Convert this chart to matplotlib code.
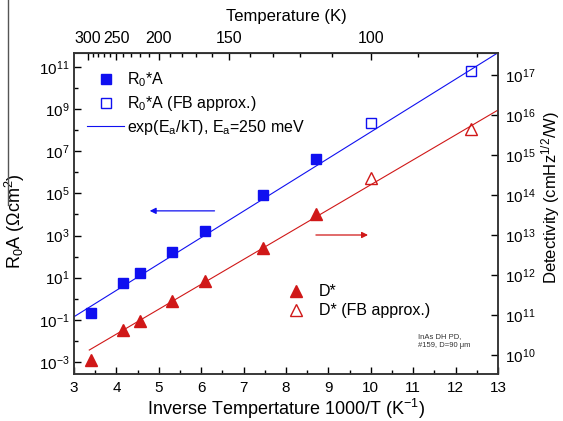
import numpy as np
import matplotlib
matplotlib.use("Agg")
from matplotlib import pyplot as plt
from matplotlib.lines import Line2D

plt.rcParams['font.family'] = ['Liberation Sans', 'DejaVu Sans']
plt.rcParams['mathtext.default'] = 'regular'

# data
inv_t = [3.40, 4.16, 4.56, 5.30, 6.09, 7.46, 8.71]
r0a = [0.22, 5.4, 16.0, 166.0, 1700.0, 83000.0, 4.3e6]
inv_t_fb = [10.0, 12.36]
r0a_fb = [2.2e8, 6.6e10]
dstar = [7.5e9, 4.2e10, 7.1e10, 2.3e11, 7.2e11, 4.7e12, 3.4e13]
dstar_fb = [2.7e14, 4.4e15]

fit_x = [3.0, 13.0]
fit_r0a = [0.14, 4.7e11]
dfit_x = [3.36, 13.0]
dfit = [1.33e10, 1.33e16]

temp_major = [300, 250, 200, 150, 100]
temp_minor = [290, 280, 270, 260, 240, 230, 220, 210, 190, 180, 170, 160,
              140, 130, 120, 110, 90, 80]

blue = '#1010f0'
red = '#d01818'

fig = plt.figure(figsize=(5.63, 4.21), dpi=100)
ax = fig.add_axes([74/563, 1-374/421, 424/563, 321/421])
ax2 = ax.twinx()

ax.set_yscale('log')
ax2.set_yscale('log')
ax.set_xlim(3, 13)
ax.set_ylim(10**-3.57, 10**11.66)
ax2.set_ylim(10**9.525, 10**17.55)

l_fit, = ax.plot(fit_x, fit_r0a, color=blue, lw=0.8)
l_sq, = ax.plot(inv_t, r0a, 's', color=blue, ms=7, ls='none')
l_osq, = ax.plot(inv_t_fb, r0a_fb, 's', mfc='none', mec=blue, mew=1.0, ms=7, ls='none')

ax2.plot(dfit_x, dfit, color=red, lw=0.8)
l_tri, = ax2.plot(inv_t, dstar, '^', color=red, ms=8.5, ls='none', clip_on=False)
l_otri, = ax2.plot(inv_t_fb, dstar_fb, '^', mfc='none', mec=red, mew=1.0, ms=8.5, ls='none')

# arrows pointing at the axes
ax.annotate('', xy=(4.72, 10**4.17), xytext=(6.38, 10**4.17),
            arrowprops=dict(arrowstyle='-|>', color=blue, lw=0.9, mutation_scale=9))
ax2.annotate('', xy=(10.0, 1e13), xytext=(8.64, 1e13),
             arrowprops=dict(arrowstyle='-|>', color=red, lw=0.9, mutation_scale=9))

# ticks
ax.set_xticks(np.arange(3, 14, 1))
ax.set_xticks(np.arange(3.5, 13, 1), minor=True)
ax.set_yticks([10.0**k for k in range(-3, 12, 2)])
ax.set_yticks([10.0**k for k in range(-2, 12, 2)], minor=True)
ax.set_yticklabels(['$10^{%d}$' % k for k in range(-3, 12, 2)])
ax.set_yticklabels([], minor=True)
ax2.set_yticks([10.0**k for k in range(10, 18)])
ax2.set_yticklabels(['$10^{%d}$' % k for k in range(10, 18)])
ax2.set_yticks([], minor=True)

ax.tick_params(which='both', direction='in', top=False, right=False, labelsize=11)
ax.tick_params(which='major', length=5, width=1)
ax.tick_params(which='minor', length=3, width=1)
ax.tick_params(axis='y', pad=3)
ax.tick_params(axis='x', pad=5)
ax2.tick_params(which='both', direction='in', labelsize=11, length=5, width=1, pad=5)

sec = ax.secondary_xaxis('top', functions=(lambda x: 1000.0/x, lambda t: 1000.0/t))
sec.set_xticks(temp_major)
sec.set_xticklabels([str(t) for t in temp_major])
sec.set_xticks(temp_minor, minor=True)
sec.tick_params(which='both', direction='in', labelsize=11.5, pad=5)
sec.tick_params(which='major', length=5, width=1)
sec.tick_params(which='minor', length=3, width=1)
sec.set_xlabel('Temperature (K)', fontsize=12, labelpad=7)

for a in (ax, ax2):
    for s in a.spines.values():
        s.set_linewidth(1.1)
        s.set_color('#333333')

ax.set_xlabel('Inverse Tempertature 1000/T (K$^{-1}$)', fontsize=13)
ax.xaxis.set_label_coords(0.5, -0.072)
ax.set_ylabel('R$_0$A ($\\Omega$cm$^2$)', fontsize=13)
ax.yaxis.set_label_coords(-0.112, 0.477)
ax2.set_ylabel('Detectivity (cmHz$^{1/2}$/W)', fontsize=12)
ax2.yaxis.set_label_coords(1.098, 0.55)

leg1 = ax2.legend([l_sq, l_osq, l_fit],
                  ['R$_0$*A', 'R$_0$*A (FB approx.)', 'exp(E$_a$/kT), E$_a$=250 meV'],
                  loc='upper left', bbox_to_anchor=(0.031, 0.945), frameon=False,
                  fontsize=11.5, handlelength=2.3, handletextpad=0.2,
                  labelspacing=0.3, borderpad=0, borderaxespad=0)
ax2.add_artist(leg1)
ax2.legend([l_tri, l_otri], ['D*', 'D* (FB approx.)'],
           loc='upper left', bbox_to_anchor=(0.498, 0.28), frameon=False,
           fontsize=11.5, handlelength=1.4, handletextpad=0.7,
           labelspacing=0.25, borderpad=0, borderaxespad=0)

ax2.text(0.811, 0.128, 'InAs DH PD,\n#159, D=90 \u03bcm', transform=ax2.transAxes,
         fontsize=5.5, va='top', ha='left', color='#333333', linespacing=1.5)

fig.add_artist(Line2D([8/563, 8/563], [1.0, 1-205/421], color='#555555', lw=1.0))

fig.savefig('out.png', dpi=100)
